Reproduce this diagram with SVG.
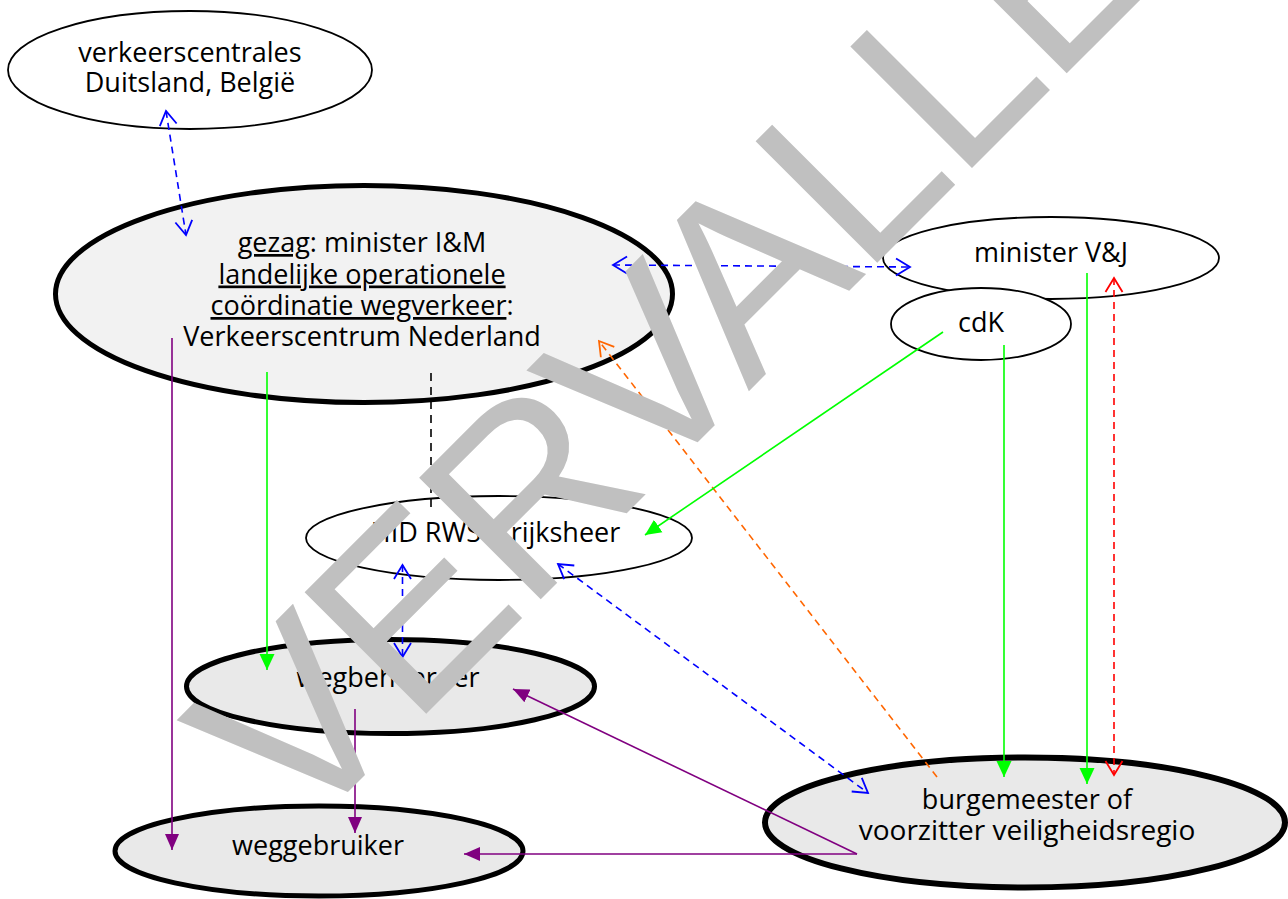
<svg xmlns="http://www.w3.org/2000/svg" width="1288" height="899" viewBox="0 0 1288 899">
<style>
.lbl{font-family:"Open Sans","Noto Sans","DejaVu Sans",sans-serif;font-size:27px;fill:#000;text-anchor:middle}
.thin{stroke:#000;stroke-width:1.8;fill:#fff}
.thick{stroke:#000;stroke-width:5;fill:#e9e9e9}
.u{text-decoration:underline}
.c{fill:none;stroke-width:1.6}
.blue{stroke:#0000ff;stroke-dasharray:7 5}
.orange{stroke:#ff6600;stroke-dasharray:7 5}
.red{stroke:#ff0000;stroke-dasharray:7 5}
.black{stroke:#000;stroke-dasharray:8 6}
.green{stroke:#00ff00}
.purple{stroke:#800080}
</style>
<defs>
<marker id="ob" viewBox="0 0 18 20" refX="16" refY="10" markerWidth="18" markerHeight="20" markerUnits="userSpaceOnUse" orient="auto-start-reverse"><path d="M2,1.5 L16,10 L2,18.5" fill="none" stroke="#0000ff" stroke-width="1.8"/></marker>
<marker id="oo" viewBox="0 0 18 20" refX="16" refY="10" markerWidth="18" markerHeight="20" markerUnits="userSpaceOnUse" orient="auto-start-reverse"><path d="M2,1.5 L16,10 L2,18.5" fill="none" stroke="#ff6600" stroke-width="1.8"/></marker>
<marker id="or" viewBox="0 0 18 20" refX="16" refY="10" markerWidth="18" markerHeight="20" markerUnits="userSpaceOnUse" orient="auto-start-reverse"><path d="M2,1.5 L16,10 L2,18.5" fill="none" stroke="#ff0000" stroke-width="1.8"/></marker>
<marker id="fg" viewBox="0 0 16 16" refX="16" refY="8" markerWidth="16" markerHeight="16" markerUnits="userSpaceOnUse" orient="auto"><path d="M0,0.5 L16,8 L0,15.5 z" fill="#00ff00"/></marker>
<marker id="fp" viewBox="0 0 16 16" refX="16" refY="8" markerWidth="16" markerHeight="16" markerUnits="userSpaceOnUse" orient="auto"><path d="M0,1 L16,8 L0,15 z" fill="#800080"/></marker>
</defs>
<rect width="1288" height="899" fill="#fff"/>
<g id="node-verkeerscentrales">
<ellipse class="thin" cx="190" cy="70" rx="182" ry="59"/>
<text class="lbl" x="190" y="62">verkeerscentrales<tspan x="190" dy="30">Duitsland, België</tspan></text>
</g>
<g id="node-gezag">
<ellipse class="thick" style="fill:#f2f2f2" cx="364" cy="294" rx="308.5" ry="108.5"/>
<text class="lbl" x="362" y="252"><tspan class="u">gezag</tspan>: minister I&amp;M<tspan x="362" dy="31.5" class="u">landelijke operationele</tspan><tspan x="362" dy="31.5" class="u">coördinatie wegverkeer</tspan>:<tspan x="362" dy="30.5">Verkeerscentrum Nederland</tspan></text>
</g>
<g id="node-ministerVJ">
<ellipse class="thin" cx="1051" cy="258" rx="168" ry="41"/>
<text class="lbl" x="1051" y="262">minister V&amp;J</text>
</g>
<g id="node-cdK">
<ellipse class="thin" cx="981" cy="324" rx="90" ry="36"/>
<text class="lbl" x="981" y="332">cdK</text>
</g>
<g id="node-rijksheer">
<ellipse class="thin" cx="499" cy="538" rx="193" ry="42"/>
<text class="lbl" x="495.5" y="542">HID RWS = rijksheer</text>
</g>
<g id="node-wegbeheerder">
<ellipse class="thick" cx="390.5" cy="686.5" rx="204" ry="47"/>
<text class="lbl" x="388" y="687">wegbeheerder</text>
</g>
<g id="node-weggebruiker">
<ellipse class="thick" cx="319" cy="851" rx="204" ry="45"/>
<text class="lbl" x="318" y="855">weggebruiker</text>
</g>
<g id="node-burgemeester">
<ellipse class="thick" style="stroke-width:6" cx="1025" cy="822.5" rx="260" ry="65"/>
<text class="lbl" x="1027" y="809">burgemeester of<tspan x="1027" dy="31" style="font-size:28px">voorzitter veiligheidsregio</tspan></text>
</g>
<g id="connectors">
<path class="c blue" d="M166,111 L186,235" marker-start="url(#ob)" marker-end="url(#ob)"/>
<path class="c blue" d="M613,265 L910,267" marker-start="url(#ob)" marker-end="url(#ob)"/>
<path class="c blue" d="M402.5,565 L402.5,657" marker-start="url(#ob)" marker-end="url(#ob)"/>
<path class="c blue" d="M558,564 L868,793" marker-start="url(#ob)" marker-end="url(#ob)"/>
<path class="c orange" d="M937,777 L599,341" marker-end="url(#oo)"/>
<path class="c red" d="M1114,278 L1114,775" marker-start="url(#or)" marker-end="url(#or)"/>
<path class="c black" d="M431,373 L431,507"/>
<path class="c green" d="M267,372 L267,670" marker-end="url(#fg)"/>
<path class="c green" d="M943,332 L645,535" marker-end="url(#fg)"/>
<path class="c green" d="M1004,345 L1004,777" marker-end="url(#fg)"/>
<path class="c green" d="M1087,273 L1087,784" marker-end="url(#fg)"/>
<path class="c purple" d="M172,338 L172,850" marker-end="url(#fp)"/>
<path class="c purple" d="M355,709 L355,833" marker-end="url(#fp)"/>
<path class="c purple" d="M857,854 L464,854" marker-end="url(#fp)"/>
<path class="c purple" d="M857,854 L513,689" marker-end="url(#fp)"/>
</g>
<text id="watermark" x="0" y="0" transform="translate(297.5,842.5) rotate(-45)" font-family="'Liberation Sans',Arial,sans-serif" font-size="250" letter-spacing="-5" fill="#c0c0c0">VERVALLEN</text>
</svg>
